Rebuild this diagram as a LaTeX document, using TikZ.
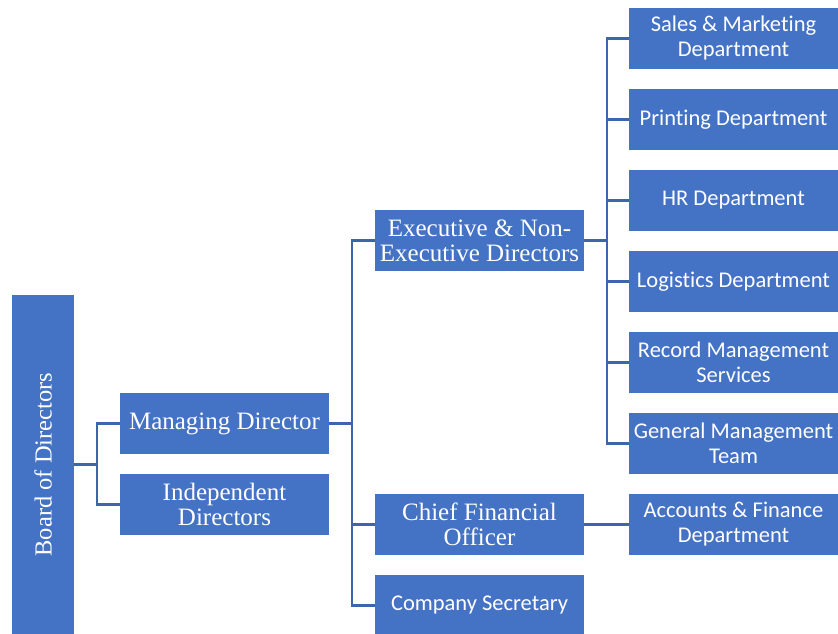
\documentclass[tikz,border=0pt]{standalone}
\usepackage{fontspec}
\setmainfont{Liberation Serif}
\newfontfamily\calibri[Ligatures=NoCommon]{Carlito}
\definecolor{boxblue}{HTML}{4472C4}
\definecolor{lineblue}{HTML}{3C65AE}

\begin{document}
\begin{tikzpicture}[x=1pt,y=-1pt,
	orgbox/.style={fill=boxblue,text=white,minimum width=209pt,minimum height=61pt,inner sep=2pt,align=center,font=\fontsize{25}{25}\selectfont},
	deptbox/.style={orgbox,font=\calibri\fontsize{22.5}{25}\selectfont},
	link/.style={draw=lineblue,line width=2.5pt}]
	\useasboundingbox (0,0) rectangle (838,634);
	
	% left part
	\node[fill=boxblue,minimum width=62pt,minimum height=339pt,inner sep=0pt] (board) at (43,464.5) {};
	\node[rotate=90,text=white,font=\fontsize{24.5}{25}\selectfont] (boardtext) at (board.center) {Board of Directors};
	\node[orgbox] (md) at (224.5,423.5) {Managing Director};
	\node[orgbox] (ind) at (224.5,504.5) {Independent\\Directors};
	
	% middle column
	\node[orgbox] (exec) at (479.5,240.5) {Executive \& Non-\\Executive Directors};
	\node[orgbox] (cfo) at (479.5,524.5) {Chief Financial\\Officer};
	\node[deptbox] (sec) at (479.5,605.5) {Company Secretary};
	
	% departments
	\foreach \name/\y/\txt in {sales/38.5/Sales \& Marketing\\Department, print/119.5/Printing Department, hr/200.5/HR Department, logi/281.5/Logistics Department, record/362.5/Record Management\\Services, general/443.5/General Management\\Team, acc/524.5/Accounts \& Finance\\Department}
		\node[deptbox] (\name) at (733.5,\y) {\txt};
	
	% connectors
	\draw[link] (board.east) -- ++(23,0) coordinate (bj) |- (md.west);
	\draw[link] (bj) |- (ind.west);
	\draw[link] (md.east) -- ++(23,0) coordinate (mj) |- (exec.west);
	\draw[link] (mj) |- (cfo.west) (mj) |- (sec.west);
	\draw[link] (exec.east) -- ++(23,0) coordinate (ej);
	\foreach \name in {sales,print,hr,logi,record,general}
		\draw[link] (ej) |- (\name.west);
	\draw[link] (cfo.east) -- (acc.west);
\end{tikzpicture}
\end{document}
